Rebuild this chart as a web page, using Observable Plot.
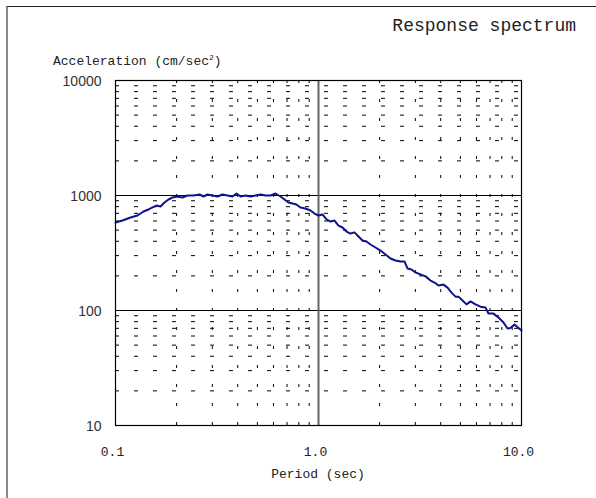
<!DOCTYPE html>
<html>
<head>
<meta charset="utf-8">
<script src="https://cdn.jsdelivr.net/npm/d3@7"></script>
<script src="https://cdn.jsdelivr.net/npm/@observablehq/plot@0.6"></script>
<style>
  html, body { margin: 0; padding: 0; background: #fff; }
  #wrap { position: relative; width: 596px; height: 498px; overflow: hidden; background: #fff; }
  #border { position: absolute; left: 6px; top: 6px; width: 620px; height: 520px;
            border-top: 1.5px solid #222; border-left: 2px solid #8a8a8a; }
  #title { position: absolute; right: 20px; top: 16px; font-family: "Liberation Mono", monospace;
           font-size: 18px; color: #222; white-space: nowrap; }
  #ylabel { position: absolute; left: 53px; top: 53px; font-family: "Liberation Mono", monospace;
            font-size: 13px; color: #222; white-space: nowrap; }
  #ylabel sup { font-size: 8px; vertical-align: 5px; }
  #xlabel { position: absolute; left: 0; width: 636px; top: 467px; text-align: center;
            font-family: "Liberation Mono", monospace; font-size: 13px; color: #222; }
  #chart { position: absolute; left: 0; top: 0; }
</style>
</head>
<body>
<div id="wrap">
  <div id="chart"></div>
  <div id="border"></div>
  <div id="title">Response spectrum</div>
  <div id="ylabel">Acceleration (cm/sec<sup>2</sup>)</div>
  <div id="xlabel">Period (sec)</div>
</div>
<script>
// Period (sec)
const period = [0.100,0.1083,0.1186,0.1283,0.1374,0.1454,0.1522,0.1592,0.1666,0.1743,
  0.1824,0.1909,0.2020,0.2138,0.2263,0.2423,0.2594,0.2714,0.2839,0.3005,
  0.3180,0.3366,0.3562,0.3770,0.3946,0.4128,0.4369,0.4624,0.4894,0.5179,
  0.5481,0.5801,0.6139,0.6498,0.6798,0.7114,0.7444,0.7791,0.8152,0.8630,
  0.9133,0.9556,1.000,1.046,1.095,1.146,1.199,1.255,1.313,1.374,
  1.437,1.504,1.574,1.647,1.724,1.804,1.909,2.021,2.138,2.263,
  2.395,2.535,2.652,2.744,2.872,3.005,3.181,3.367,3.563,3.728,
  3.901,4.129,4.320,4.520,4.730,4.894,5.121,5.359,5.608,5.935,
  6.281,6.648,6.877,7.278,7.702,8.153,8.532,8.827,9.237,9.665,10.0];
// Acceleration (cm/sec^2)
const accel = [582,606,644,670,726,756,787,818,802,869,
  923,961,980,961,1000,1000,1020,980,1020,1000,
  980,1020,1000,980,1041,980,1000,980,1000,1020,
  1000,1000,1041,980,923,869,852,835,787,771,
  741,697,670,684,619,594,606,548,527,486,
  467,478,440,406,398,375,353,332,307,283,
  272,267,267,232,227,214,206,198,182,175,
  165,168,158,143,132,132,122,113,120,113,
  108,106,94.2,94,86.9,78.7,69.7,70.5,75.5,70.5,67];

const xTicks = [0.1, 1, 10];
const yTicks = [10, 100, 1000, 10000];
const xMinor = [0.2,0.3,0.4,0.5,0.6,0.7,0.8,0.9,2,3,4,5,6,7,8,9];
const yMinor = [20,30,40,50,60,70,80,90,200,300,400,500,600,700,800,900,
  2000,3000,4000,5000,6000,7000,8000,9000];
const yMajor = [100, 1000];
const xMajor = [1];

const data = period.map((p, i) => ({p, a: accel[i]}));

const chart = Plot.plot({
  width: 596,
  height: 498,
  marginTop: 80,
  marginRight: 75,
  marginBottom: 73,
  marginLeft: 115,
  style: {background: "transparent"},
  x: {type: "log", domain: [0.1, 10]},
  y: {type: "log", domain: [10, 10000]},
  marks: [
    Plot.ruleX(xMinor, {stroke: "#000", strokeWidth: 1, strokeDasharray: "3,16"}),
    Plot.ruleY(yMinor, {stroke: "#000", strokeWidth: 1, strokeDasharray: "4,15"}),
    Plot.ruleY(yMajor, {stroke: "#000", strokeWidth: 1}),
    Plot.ruleX(xMajor, {stroke: "#666", strokeWidth: 2}),
    Plot.line(data, {x: "p", y: "a", stroke: "#10128a", strokeWidth: 2}),
    Plot.frame({stroke: "#000", strokeWidth: 1.2}),
    Plot.axisX(xTicks, {tickSize: 0, tickPadding: 21, label: null, dx: -3,
      tickFormat: d => d.toFixed(1), fontFamily: "Liberation Mono", fontSize: 13, fill: "#222"}),
    Plot.axisY(yTicks, {tickSize: 0, tickPadding: 14, label: null, dy: 1,
      tickFormat: d => String(d), fontFamily: "Liberation Sans", fontSize: 14, fill: "#333"})
  ]
});
document.getElementById("chart").appendChild(chart);
</script>
</body>
</html>
